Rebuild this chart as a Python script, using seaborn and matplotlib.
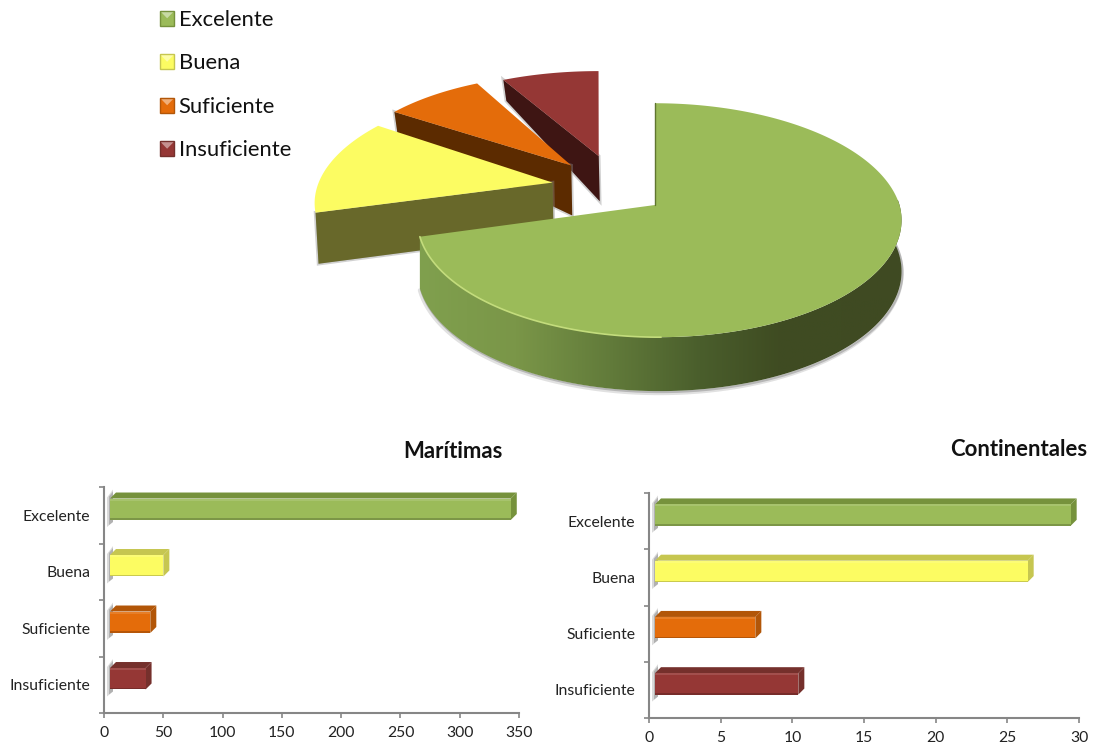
import numpy as np
import matplotlib
matplotlib.use("Agg")
import matplotlib.pyplot as plt
import matplotlib.colors as mcolors
import matplotlib.transforms as mtransforms
from matplotlib.patches import Patch, Polygon
import seaborn as sns

categories = ["Excelente", "Buena", "Suficiente", "Insuficiente"]
pie_values = [367, 71, 41, 40]
maritimas = [338, 45, 34, 30]
continentales = [29, 26, 7, 10]
maritimas_ticks = [0, 50, 100, 150, 200, 250, 300, 350]
continentales_ticks = [0, 5, 10, 15, 20, 25, 30]

colors = ["#9BBB59", "#FCFC62", "#E46C0A", "#953735"]
pie_sides = ["#4F6228", "#68682A", "#5C2B00", "#3E1513"]
bar_sides = ["#76923C", "#C6C650", "#B25608", "#75302C"]

W, H = 1094, 751
sns.set_theme(style="white")
plt.rcParams["font.family"] = ["Lato", "DejaVu Sans"]
identity = mtransforms.IdentityTransform()

fig = plt.figure(figsize=(W / 100, H / 100), dpi=100)

# pie is laid out by matplotlib, then its wedges get projected to a tilted plane
ax_pie = fig.add_axes([0, 0, 1, 1])
wedges, _ = ax_pie.pie(pie_values, colors=colors, startangle=90, counterclock=False)
angles = [(w.theta1, w.theta2) for w in wedges]
for w in wedges:
    w.remove()
ax_pie.set_aspect("auto")
ax_pie.set_xlim(0, W)
ax_pie.set_ylim(H, 0)
ax_pie.axis("off")

CX, CY, RX, RY, PERSP = 659.5, 205, 240, 115, 0.13
# where each slice was pulled out to, in the plane of the pie
slice_shift = [(0, 0), (-0.457, 0.2), (-0.385, 0.36), (-0.268, 0.45)]
# small lean and squash of the pulled out slices (shear, y scale)
slice_lean = [(0, 1), (0, 1), (-0.08, 0.98), (-0.075, 0.93)]


def project(x, y):
    w = 1 + PERSP * y
    return CX + RX * x / w, CY - RY * y / w


def arc_points(i, theta1, theta2, n=160):
    t = np.radians(np.linspace(theta1, theta2, n))
    sx, sy = slice_shift[i]
    px, py = project(np.cos(t) + sx, np.sin(t) + sy)
    ax0, ay0 = project(sx, sy)
    lean, squash = slice_lean[i]
    up = ay0 - py
    return px + lean * up, ay0 - up * squash


def depth(py):
    return np.interp(py, [112, 165, 340], [21, 50, 54])


# back to front: the red slice first, green last
for i in [3, 2, 1]:
    theta1, theta2 = angles[i]
    apex = project(*slice_shift[i])
    arc_x, arc_y = arc_points(i, theta1, theta2)
    side = [
        (apex[0], apex[1]),
        (arc_x[-1], arc_y[-1]),
        (arc_x[-1] + 3, arc_y[-1] + depth(arc_y[-1])),
        (apex[0] + 1, apex[1] + depth(apex[1])),
    ]
    ax_pie.add_patch(Polygon(side, fc="#8c8c8c", ec="#8c8c8c", alpha=0.4, lw=2.5, zorder=i * -3 + 10))
    ax_pie.add_patch(Polygon(side, fc=pie_sides[i], ec="none", zorder=i * -3 + 11))
    top = np.vstack([[apex], np.column_stack([arc_x, arc_y])])
    ax_pie.add_patch(Polygon(top, fc=colors[i], ec="none", zorder=i * -3 + 12))

# green slice, the rim is shaded from left to right
theta1, theta2 = angles[0]
rim_x, rim_y = arc_points(0, theta1, 8)
low_y = rim_y + depth(rim_y)
rim = np.vstack([np.column_stack([rim_x, rim_y]), np.column_stack([rim_x, low_y])[::-1]])
ax_pie.plot(rim_x, low_y + 2, color="#888888", lw=3, alpha=0.25, zorder=19)
ax_pie.plot(rim_x + 1, low_y + 1, color="#666666", lw=1.5, alpha=0.35, zorder=19)
rim_patch = Polygon(rim, fc="none", ec="none", zorder=20)
ax_pie.add_patch(rim_patch)
shade = mcolors.LinearSegmentedColormap.from_list(
    "rim",
    [(0, "#80A04E"), (0.2, "#7A9648"), (0.4, "#617A3A"), (0.58, "#4A5E2C"), (0.74, "#3F4C22"), (1, "#3F4A22")],
)
img = ax_pie.imshow(
    np.linspace(0, 1, 256)[None, :],
    cmap=shade,
    extent=(418, 905, 400, 200),
    aspect="auto",
    zorder=20,
)
img.set_clip_path(rim_patch)
ax_pie.set_xlim(0, W)
ax_pie.set_ylim(H, 0)

gx, gy = arc_points(0, theta1, theta2, n=300)
# the straight edges of the green slice stand a little left of the plane centre
t = np.radians(np.linspace(theta1, theta2, 300))
gx = gx - 4.5 * np.clip(np.sin(t), 0, 1)
apex = project(*slice_shift[0])
apex = (apex[0] - 4.5, apex[1])
ax_pie.add_patch(Polygon(np.vstack([[apex], np.column_stack([gx, gy])]), fc=colors[0], ec="none", zorder=21))
ax_pie.plot(rim_x[:70], rim_y[:70], color="#C3DC7C", lw=1.2, zorder=22)
ax_pie.plot([apex[0], gx[-1]], [apex[1], gy[-1]], color="#5F7530", lw=1, zorder=22)


def bar_panel(box, values, ticks, xmax, title, title_xy):
    left, top, right, bottom = box
    ax = fig.add_axes([left / W, 1 - bottom / H, (right - left) / W, (bottom - top) / H])
    ax.patch.set_alpha(0)
    sns.barplot(
        x=values,
        y=categories,
        hue=categories,
        palette=colors,
        saturation=1,
        width=0.38,
        legend=False,
        orient="h",
        linewidth=0,
        edgecolor="none",
        ax=ax,
    )
    ax.set_xlim(0, xmax)
    ax.set_ylim(3.5, -0.5)
    ax.set_xticks(ticks)
    ax.set_yticks(np.arange(-0.5, 4), labels=[])
    ax.set_yticks(np.arange(4), labels=categories, minor=True)
    ax.tick_params(axis="both", which="major", length=3.5, width=1.2, color="#868686", bottom=True, left=True)
    ax.tick_params(axis="y", which="minor", length=0, pad=10, left=False, labelsize=11.3, labelcolor="#222222")
    ax.tick_params(axis="x", which="major", pad=6, labelsize=11.3, labelcolor="#222222")
    for name in ["top", "right"]:
        ax.spines[name].set_visible(False)
    for name in ["left", "bottom"]:
        ax.spines[name].set_color("#868686")
        ax.spines[name].set_linewidth(1.5)
    ax.set_title(title, x=title_xy[0], y=title_xy[1], va="center", fontsize=15.9, fontweight="bold", color="#111111")

    # 3d look: the face sits in front of the axis, sides are taken from each bar
    face = mtransforms.offset_copy(ax.transData, fig=fig, x=6, y=6, units="dots")
    for bar, side_color in zip(ax.patches, bar_sides):
        bar.set_transform(face)
        bar.set_zorder(5)
        (x0, y0), (x1, y1) = face.transform([(bar.get_x(), bar.get_y() + bar.get_height()),
                                            (bar.get_x() + bar.get_width(), bar.get_y())])
        fc = bar.get_facecolor()
        light = mcolors.to_rgba(np.array(fc[:3]) * 0.88 + 0.12)
        dark = mcolors.to_rgba(np.array(fc[:3]) * 0.8)
        dx, dy = 6, 6
        shapes = [
            ([(x0, y1), (x0 + dx, y1 + dy), (x1 + dx, y1 + dy), (x1, y1)], side_color, 4),
            ([(x1, y1), (x1 + dx, y1 + dy), (x1 + dx, y0 + dy), (x1, y0)], side_color, 4),
            ([(x0, y1 - 2), (x1, y1 - 2), (x1, y1), (x0, y1)], light, 6),
            ([(x0, y0), (x1, y0), (x1, y0 + 1.5), (x0, y0 + 1.5)], dark, 6),
            ([(x0 - 3, y0 - 7), (x0 - 3, y1 + 1), (x0 + 3, y1 + 9), (x0 + 3, y0 - 2)], "#b5b5b5", 2),
            ([(x0 - 1, y0 - 5), (x0 - 1, y1 + 2), (x0 + 3, y1 + 7), (x0 + 3, y0 - 2)], "#8a8a8a", 2),
        ]
        for pts, col, z in shapes:
            alpha = 0.5 if z == 2 else 1
            ax.add_patch(Polygon(pts, fc=col, ec="none", alpha=alpha, transform=identity, zorder=z, clip_on=False))
    return ax


bar_panel((104, 487, 519, 713), maritimas, maritimas_ticks, 350, "Marítimas", (0.842, 1.12))
bar_panel((649, 493, 1079, 718), continentales, continentales_ticks, 30, "Continentales", (0.859, 1.155))

legend = fig.legend(
    handles=[Patch(facecolor=c, edgecolor="none", label=n) for c, n in zip(colors, categories)],
    loc="upper left",
    bbox_to_anchor=(160 / W, 1 - 10 / H),
    bbox_transform=fig.transFigure,
    frameon=False,
    fontsize=15.8,
    labelcolor="#111111",
    handlelength=0.65,
    handleheight=0.65,
    handletextpad=0.2,
    labelspacing=1.07,
    borderaxespad=0,
    borderpad=0,
)
fig.canvas.draw()
# bevel on the legend keys
for handle, side_color, c in zip(legend.get_patches(), bar_sides, colors):
    bb = handle.get_window_extent()
    mid = ((bb.x0 + bb.x1) / 2, (bb.y0 + bb.y1) / 2)
    tint = mcolors.to_rgba(np.array(mcolors.to_rgb(c)) * 0.55 + 0.45)
    fig.add_artist(Polygon([(bb.x0, bb.y1), (bb.x1, bb.y1), mid], fc=tint, ec="none", transform=identity, zorder=10))
    fig.add_artist(Polygon([(bb.x0, bb.y0), (bb.x0, bb.y1), (bb.x1, bb.y1), (bb.x1, bb.y0)],
                           fc="none", ec=side_color, lw=1, transform=identity, zorder=10))

fig.savefig("out.png", dpi=100)
